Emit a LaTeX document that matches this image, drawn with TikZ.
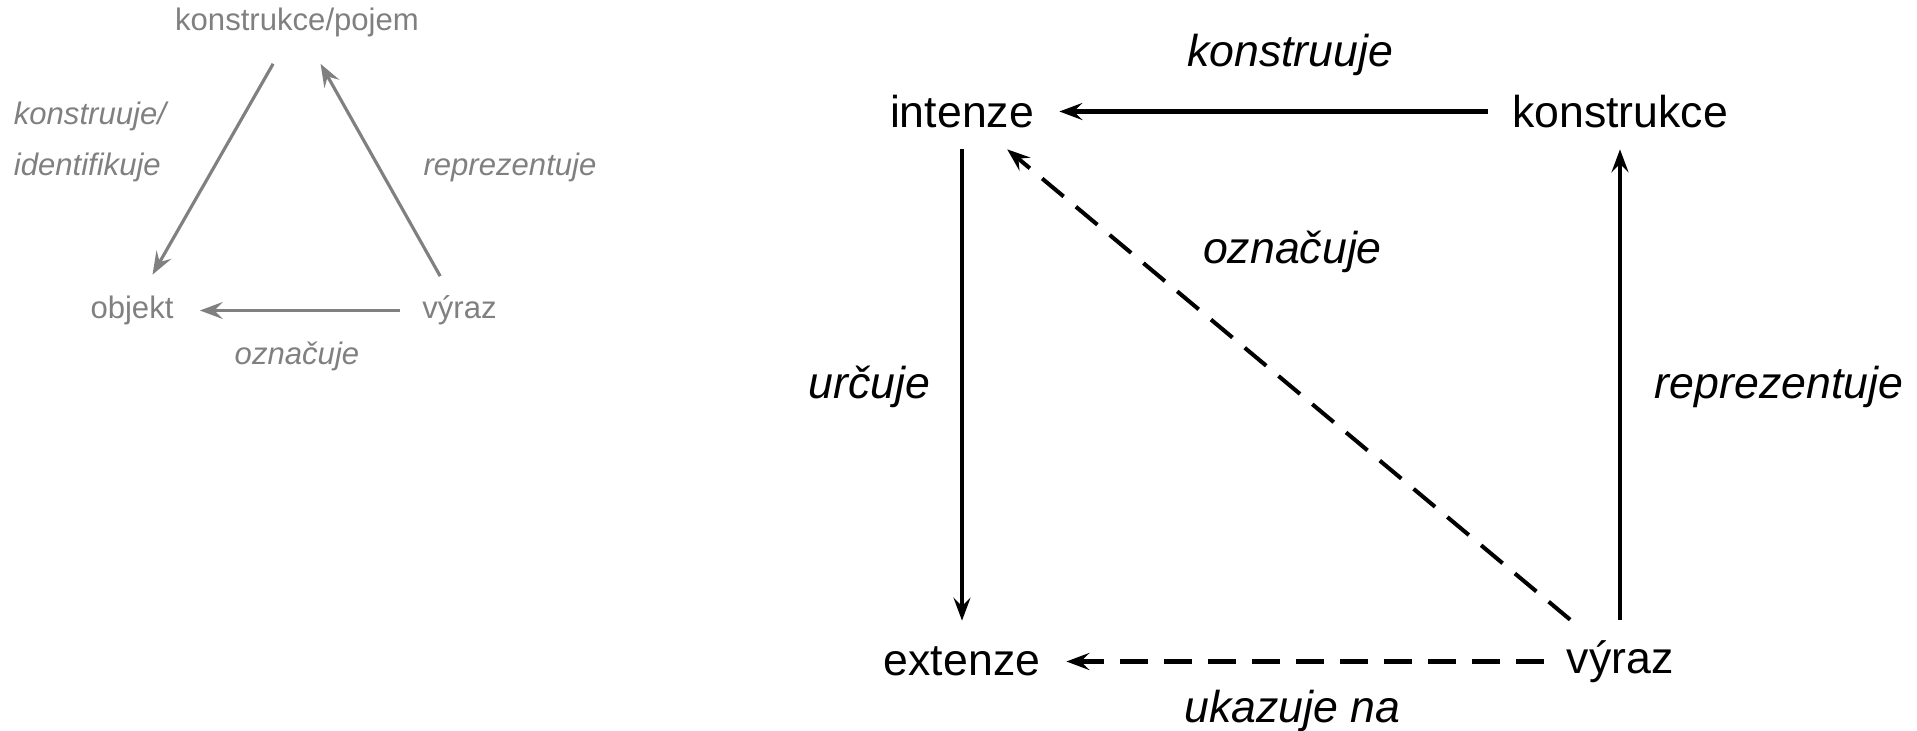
\documentclass[tikz,border=0pt]{standalone}
\usepackage{fontspec}
\setmainfont{Liberation Sans}
\usepackage{xcolor}
\definecolor{tgray}{RGB}{128,128,128}
\usetikzlibrary{arrows.meta}

\tikzset{
  term/.style={font=\fontsize{25.4}{30}\selectfont, inner sep=0pt},
  lbl/.style={font=\fontsize{25.4}{30}\selectfont\itshape},
  gterm/.style={text=tgray, font=\fontsize{17.7}{22}\selectfont, inner sep=0pt},
  glbl/.style={text=tgray, font=\fontsize{17.7}{29.2}\selectfont\itshape},
  arr/.style={line width=2.3pt, -{Stealth[length=0.46cm, width=0.34cm, inset=0.17cm]}},
  garr/.style={arr, line width=1.8pt, draw=tgray},
  dsh/.style={dash pattern=on 0.56cm off 0.32cm},
}

\begin{document}
\begin{tikzpicture}
\useasboundingbox (0,0) rectangle (38.34,-14.62);

% === Left: triangle ===
\node[gterm, minimum width=5cm, minimum height=1.66cm] (kp) at (5.94,-0.44) {konstrukce/pojem};
\node[gterm, minimum width=2.7cm, minimum height=1.42cm] (obj) at (2.64,-6.21) {objekt};
\node[gterm, minimum width=2.38cm, minimum height=1.36cm] (vyrL) at (9.19,-6.21) {výraz};

\node[glbl, align=left, anchor=west, inner sep=0pt] (lkon) at (0.27,-2.84) {konstruuje/\\identifikuje};
\node[glbl] (lrep) at (10.20,-3.35) {reprezentuje};
\node[glbl] (loz) at (5.94,-7.12) {označuje};

\draw[garr] (kp) -- (obj);
\draw[garr] (vyrL) -- (kp);
\draw[garr] (vyrL) -- (obj);

% === Right: square ===
\node[term, minimum width=3.88cm, minimum height=1.5cm] (int) at (19.24,-2.23) {intenze};
\node[term, minimum width=5.28cm, minimum height=1.5cm] (kon) at (32.40,-2.23) {konstrukce};
\node[term, minimum width=4.16cm, minimum height=1.62cm] (ext) at (19.24,-13.23) {extenze};
\node[term, minimum width=3.04cm, minimum height=1.66cm] (vyr) at (32.40,-13.23) {výraz};

\node[lbl] (lk) at (25.80,-1.10) {konstruuje};
\node[lbl] (lo) at (25.85,-5.04) {označuje};
\node[lbl] (lu) at (17.39,-7.73) {určuje};
\node[lbl] (lr) at (35.58,-7.73) {reprezentuje};
\node[lbl] (ln) at (25.85,-14.21) {ukazuje na};

\draw[arr] (kon) -- (int);
\draw[arr] (int) -- (ext);
\draw[arr] (vyr) -- (kon);
\draw[arr, dsh] (vyr) -- (int);
\draw[arr, dsh] (vyr) -- (ext);

\end{tikzpicture}
\end{document}
